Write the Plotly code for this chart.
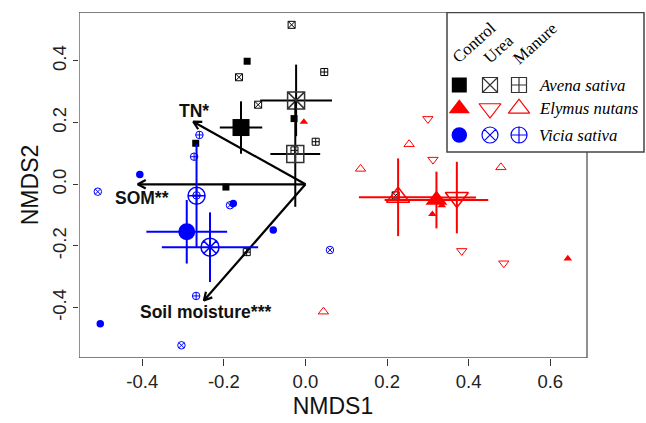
import numpy as np
import plotly.graph_objects as go

# ---------------------------------------------------------------- data
species = ["Avena sativa", "Elymus nutans", "Vicia sativa"]
treatments = ["Control", "Urea", "Manure"]

# replicate plot scores (NMDS1, NMDS2)
avena_control_x = [-0.143, -0.028, -0.269, -0.195]
avena_control_y = [0.399, 0.213, 0.133, -0.009]
avena_urea_x = [-0.034, -0.163, -0.116, 0.221]
avena_urea_y = [0.517, 0.347, 0.258, -0.036]
avena_manure_x = [0.046, 0.025, -0.144, -0.027]
avena_manure_y = [0.364, 0.138, -0.220, 0.110]

elymus_control_x = [-0.004, 0.311, 0.643, 0.334]
elymus_control_y = [0.202, -0.097, -0.241, -0.068]
elymus_urea_x = [0.300, 0.3125, 0.383, 0.486]
elymus_urea_y = [0.212, 0.080, -0.216, -0.256]
elymus_manure_x = [0.254, 0.135, 0.479, 0.044]
elymus_manure_y = [0.130, 0.050, 0.055, -0.413]

vicia_control_x = [-0.406, -0.177, -0.079, -0.503]
vicia_control_y = [0.032, -0.062, -0.148, -0.452]
vicia_urea_x = [-0.509, -0.185, 0.060, -0.304]
vicia_urea_y = [-0.024, -0.068, -0.213, -0.522]
vicia_manure_x = [-0.260, -0.273, -0.268, -0.267]
vicia_manure_y = [0.160, 0.0895, -0.362, -0.036]

# group centroids with standard errors (order: Control, Urea, Manure)
avena_cent_x = [-0.158, -0.023, -0.025]
avena_cent_y = [0.184, 0.272, 0.098]
avena_se_x = [0.052, 0.088, 0.061]
avena_se_y = [0.085, 0.116, 0.171]

elymus_cent_x = [0.321, 0.371, 0.227]
elymus_cent_y = [-0.051, -0.043, -0.042]
elymus_se_x = [0.127, 0.047, 0.096]
elymus_se_y = [0.092, 0.116, 0.126]

vicia_cent_x = [-0.291, -0.234, -0.267]
vicia_cent_y = [-0.154, -0.204, -0.037]
vicia_se_x = [0.099, 0.118, 0.010]
vicia_se_y = [0.103, 0.113, 0.168]

# fitted environmental vectors
env_names = ["TN*", "SOM**", "Soil moisture***"]
env_x = [-0.275, -0.411, -0.249]
env_y = [0.203, 0.000, -0.377]

x_ticks = [-0.4, -0.2, 0.0, 0.2, 0.4, 0.6]
y_ticks = [-0.4, -0.2, 0.0, 0.2, 0.4]

# ---------------------------------------------------------------- layout geometry (pixels)
W, H = 646, 423
ML, MR, MT, MB = 79, 0, 12, 65
PLOT_R = 587                      # right edge of the ordination frame
PLOT_B = H - MB
X_RANGE = [-0.5551, 0.690]
Y_RANGE = [-0.5632, 0.5586]
x_dom_end = (PLOT_R - ML) / (W - ML - MR)
px_per_x = (PLOT_R - ML) / (X_RANGE[1] - X_RANGE[0])
px_per_y = (PLOT_B - MT) / (Y_RANGE[1] - Y_RANGE[0])

colors = {"Avena sativa": "#000000", "Elymus nutans": "#FF0000", "Vicia sativa": "#0000FF"}
open_dark = {"Avena sativa": "#333333", "Elymus nutans": "#FF0000", "Vicia sativa": "#0000FF"}
symbols = {
    "Avena sativa": ["square", "square-x-open", "square-cross-open"],
    "Elymus nutans": ["triangle-up", "triangle-down-open", "triangle-up-open"],
    "Vicia sativa": ["circle", "circle-x-open", "circle-cross-open"],
}
small_size = {
    "Avena sativa": [7, 7, 7],
    "Elymus nutans": [7.5, 9, 9],
    "Vicia sativa": [7.5, 7.5, 7.5],
}
big_size = {
    "Avena sativa": [17, 17, 17],
    "Elymus nutans": [19, 20, 20],
    "Vicia sativa": [17, 18, 17],
}
legend_size = {
    "Avena sativa": [15, 15, 15],
    "Elymus nutans": [18.5, 19, 18.5],
    "Vicia sativa": [15.5, 16, 16],
}

reps = {
    "Avena sativa": [(avena_control_x, avena_control_y), (avena_urea_x, avena_urea_y),
                     (avena_manure_x, avena_manure_y)],
    "Elymus nutans": [(elymus_control_x, elymus_control_y), (elymus_urea_x, elymus_urea_y),
                      (elymus_manure_x, elymus_manure_y)],
    "Vicia sativa": [(vicia_control_x, vicia_control_y), (vicia_urea_x, vicia_urea_y),
                     (vicia_manure_x, vicia_manure_y)],
}
cents = {
    "Avena sativa": (avena_cent_x, avena_cent_y, avena_se_x, avena_se_y),
    "Elymus nutans": (elymus_cent_x, elymus_cent_y, elymus_se_x, elymus_se_y),
    "Vicia sativa": (vicia_cent_x, vicia_cent_y, vicia_se_x, vicia_se_y),
}

fig = go.Figure()

# ---------------------------------------------------------------- environmental arrows
ARROW_HEAD_PX = 9
ARROW_ANGLE = np.deg2rad(28)
for ex, ey in zip(env_x, env_y):
    fig.add_trace(go.Scatter(x=[0, ex], y=[0, ey], mode="lines",
                             line=dict(color="black", width=2.2),
                             hoverinfo="skip", showlegend=False))
    # open V head, built in pixel space so it keeps its shape
    vx, vy = -ex * px_per_x, -ey * px_per_y
    n = np.hypot(vx, vy)
    ux, uy = vx / n, vy / n
    hx, hy = [], []
    for sgn in (1, -1):
        c, s = np.cos(sgn * ARROW_ANGLE), np.sin(sgn * ARROW_ANGLE)
        rx, ry = ux * c - uy * s, ux * s + uy * c
        hx.append(ex + ARROW_HEAD_PX * rx / px_per_x)
        hy.append(ey + ARROW_HEAD_PX * ry / px_per_y)
    fig.add_trace(go.Scatter(x=[hx[0], ex, hx[1]], y=[hy[0], ey, hy[1]], mode="lines",
                             line=dict(color="black", width=2.2),
                             hoverinfo="skip", showlegend=False))

# ---------------------------------------------------------------- replicate points
for sp in species:
    for k, (xs, ys) in enumerate(reps[sp]):
        sym = symbols[sp][k]
        filled = not sym.endswith("open")
        fig.add_trace(go.Scatter(
            x=xs, y=ys, mode="markers", showlegend=False, hoverinfo="skip",
            marker=dict(symbol=sym, size=small_size[sp][k], color=colors[sp],
                        line=dict(width=0 if filled else 1, color=colors[sp])),
        ))

# ---------------------------------------------------------------- centroids with SE bars
for sp in species:
    cx, cy, sx, sy = cents[sp]
    for k in range(3):
        sym = symbols[sp][k]
        filled = not sym.endswith("open")
        col = colors[sp]
        fig.add_trace(go.Scatter(
            x=[cx[k]], y=[cy[k]], mode="markers", showlegend=False, hoverinfo="skip",
            error_x=dict(type="data", array=[sx[k]], width=0, thickness=2, color=col),
            error_y=dict(type="data", array=[sy[k]], width=0, thickness=2, color=col),
            marker=dict(symbol=sym, size=big_size[sp][k],
                        color=col if filled else open_dark[sp],
                        line=dict(width=0 if filled else 1.5,
                                  color=col if filled else open_dark[sp])),
        ))

# ---------------------------------------------------------------- vector labels
label_pos = [(-0.273, 0.237), (-0.401, -0.045), (-0.246, -0.413)]
for name, (lx, ly) in zip(env_names, label_pos):
    fig.add_annotation(x=lx, y=ly, xref="x", yref="y", text="<b>" + name + "</b>",
                       showarrow=False, xanchor="center", yanchor="middle",
                       font=dict(family="Liberation Sans, Arial", size=17.5, color="#111"))

# ---------------------------------------------------------------- key (pixel-space overlay axes)
key_cols = [459.3, 490, 519]
key_rows = [85, 108.5, 135]
key_font = dict(family="Liberation Serif, Times New Roman", size=16.8, color="black")
for r, sp in enumerate(species):
    for k in range(3):
        sym = symbols[sp][k]
        filled = not sym.endswith("open")
        fig.add_trace(go.Scatter(
            x=[key_cols[k]], y=[key_rows[r]], xaxis="x2", yaxis="y2", mode="markers",
            showlegend=False, hoverinfo="skip", cliponaxis=False,
            marker=dict(symbol=sym, size=legend_size[sp][k],
                        color=colors[sp] if filled else open_dark[sp],
                        line=dict(width=0 if filled else 1.2,
                                  color=colors[sp] if filled else open_dark[sp])),
        ))
    fig.add_annotation(x=537, y=key_rows[r], xref="x2", yref="y2",
                       text="<i>" + sp + "</i>", showarrow=False,
                       xanchor="left", yanchor="middle", font=key_font)
head_pos = [(474, 42), (498, 49), (535, 43.5)]
for t, (hx, hy) in zip(treatments, head_pos):
    fig.add_annotation(x=hx, y=hy, xref="x2", yref="y2", text=t, showarrow=False,
                       textangle=-42, xanchor="center", yanchor="middle",
                       font=dict(family="Liberation Serif, Times New Roman", size=16.8,
                                 color="black"))

# frame of the ordination panel and the key box
fig.add_shape(type="rect", xref="x2", yref="y2", x0=ML, x1=PLOT_R, y0=MT, y1=PLOT_B,
              line=dict(color="#555555", width=1.3), fillcolor="rgba(0,0,0,0)",
              layer="below")
fig.add_shape(type="rect", xref="x2", yref="y2", x0=447, x1=644, y0=12.5, y1=152,
              line=dict(color="#444444", width=1.5), fillcolor="white", layer="below")

axis_font = dict(family="Liberation Sans, Arial", size=18.5, color="#222")
fig.update_layout(
    width=W, height=H,
    margin=dict(l=ML, r=MR, t=MT, b=MB, pad=0),
    paper_bgcolor="white", plot_bgcolor="rgba(0,0,0,0)",
    xaxis=dict(domain=[0, x_dom_end], range=X_RANGE, showgrid=False, zeroline=False,
               showline=False, ticks="outside", ticklen=7, tickwidth=1.2, tickcolor="#333",
               tickvals=x_ticks, ticktext=[f"{v:.1f}" for v in x_ticks],
               tickfont=axis_font,
               title=dict(text="NMDS1", font=dict(family="Liberation Sans, Arial", size=23,
                                                  color="#111"), standoff=6)),
    yaxis=dict(domain=[0, 1], range=Y_RANGE, showgrid=False, zeroline=False,
               showline=False, ticks="outside", ticklen=5, tickwidth=1.2, tickcolor="#333",
               tickvals=y_ticks, ticktext=[f"{v:.1f}" for v in y_ticks],
               tickangle=-90, tickfont=axis_font,
               title=dict(text="NMDS2", font=dict(family="Liberation Sans, Arial", size=23,
                                                  color="#111"), standoff=3)),
    xaxis2=dict(domain=[0, 1], range=[ML, W - MR], visible=False, anchor="y2"),
    yaxis2=dict(domain=[0, 1], range=[PLOT_B, MT], visible=False, anchor="x2"),
)

fig.write_html("out.html")
